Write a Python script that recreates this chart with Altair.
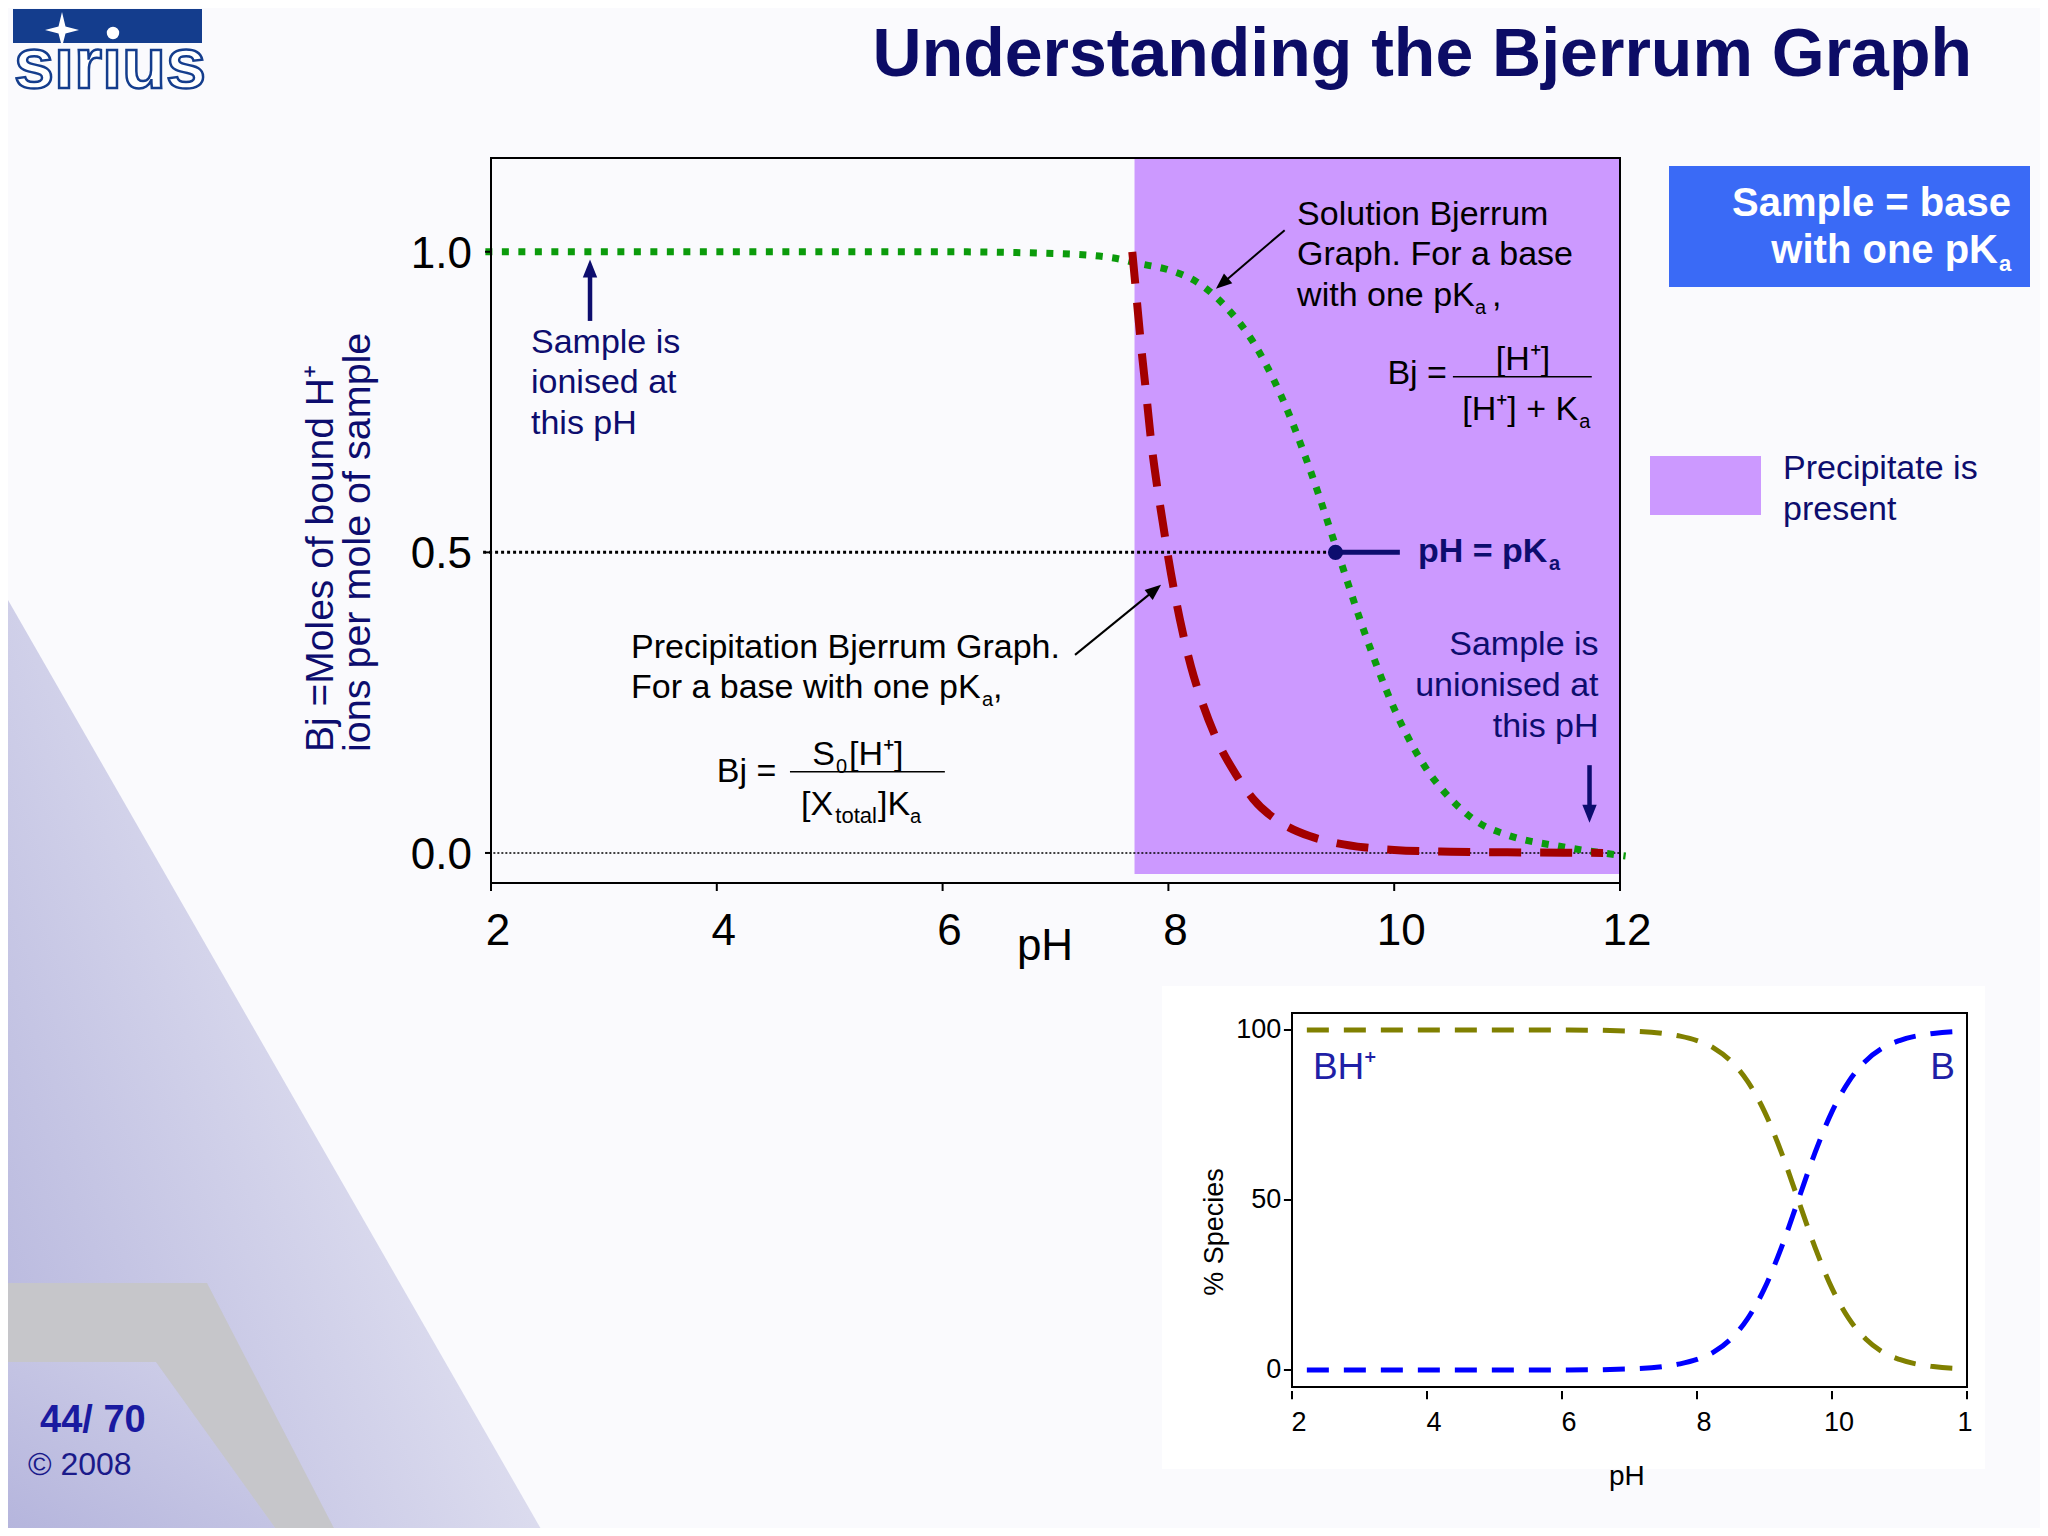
import altair as alt
import pandas as pd

FONT = "Liberation Sans, Arial, Helvetica, sans-serif"
NAVY = "#0D0D6E"
TITLE_NAVY = "#0C0C66"
GREEN = "#0B9B0B"
RED = "#A30000"
PURPLE = "#CC99FF"
LOGO_BLUE = "#143D8D"
BOX_BLUE = "#3A6AF6"

# ---------------- values ----------------
# Solution Bjerrum curve (green dotted)
sol_ph = [1.95, 3.0, 4.0, 5.0, 6.0, 7.0, 7.5, 7.75, 8.0, 8.25, 8.5, 8.75, 9.0,
          9.25, 9.5, 9.75, 10.0, 10.25, 10.5, 10.75, 11.0, 11.5, 12.05]
sol_bj = [1.0, 1.0, 1.0, 1.0, 1.0, 0.997, 0.99, 0.98, 0.97, 0.95, 0.91, 0.85, 0.76,
          0.64, 0.50, 0.36, 0.24, 0.15, 0.09, 0.05, 0.03, 0.01, -0.005]
# Precipitation Bjerrum curve (red dashed)
prec_ph = [7.68, 7.72, 7.76, 7.80, 7.85, 7.90, 7.95, 8.00, 8.10, 8.20, 8.30, 8.45,
           8.60, 8.75, 9.00, 9.25, 9.50, 9.75, 10.0, 10.5, 11.0, 11.5, 11.85]
prec_bj = [1.00, 0.92, 0.84, 0.77, 0.68, 0.61, 0.55, 0.49, 0.39, 0.31, 0.25, 0.18,
           0.13, 0.09, 0.05, 0.028, 0.016, 0.009, 0.005, 0.002, 0.001, 0.0005, 0.0]
pka_ph = 9.48
pka_bj = 0.5
precip_from_ph = 7.70
main_xticks = [2, 4, 6, 8, 10, 12]
main_xlabels = ["2", "4", "6", "8", "10", "12"]
main_yticks = [0.0, 0.5, 1.0]
main_ylabels = ["0.0", "0.5", "1.0"]

# Species distribution inset
sp_ph = [2.22, 3.0, 4.0, 5.0, 6.0, 7.0, 7.5, 7.75, 8.0, 8.25, 8.5, 8.75, 9.0,
         9.25, 9.5, 9.75, 10.0, 10.25, 10.5, 10.75, 11.0, 11.5, 12.0]
sp_bh = [100, 100, 100, 100, 100, 99.7, 99.0, 98.2, 96.9, 94.7, 90.9, 84.9, 76.0,
         64.0, 50.0, 36.0, 24.0, 15.1, 9.1, 5.3, 3.1, 1.0, 0.3]
sp_b = [0, 0, 0, 0, 0, 0.3, 1.0, 1.8, 3.1, 5.3, 9.1, 15.1, 24.0,
        36.0, 50.0, 64.0, 76.0, 84.9, 90.9, 94.7, 96.9, 99.0, 99.7]
ins_xticks = [2, 4, 6, 8, 10, 12]
ins_xlabels = ["2", "4", "6", "8", "10", "1"]
ins_yticks = [0, 50, 100]
ins_ylabels = ["0", "50", "100"]

# ---------------- scales ----------------
X_MAIN = alt.Scale(domain=[2, 12], nice=False, zero=False)
Y_MAIN = alt.Scale(domain=[-0.05, 1.156], nice=False, zero=False)
X_INS = alt.Scale(domain=[2, 12], range=[801, 1476], nice=False, zero=False)
Y_INS = alt.Scale(domain=[-5, 105], range=[1229, 855], nice=False, zero=False)

ONE = pd.DataFrame({"o": [0]})


def MX(v):
    return alt.XDatum(v, type="quantitative", scale=X_MAIN, axis=None)


def MY(v):
    return alt.YDatum(v, type="quantitative", scale=Y_MAIN, axis=None)


def IX(v):
    return alt.XDatum(v, type="quantitative", scale=X_INS, axis=None)


def IY(v):
    return alt.YDatum(v, type="quantitative", scale=Y_INS, axis=None)


def base():
    return alt.Chart(ONE)


def text_at(x, y, text, size=34, color="black", align="left",
            baseline="alphabetic", weight="normal", **kw):
    return base().mark_text(text=text, font=FONT, fontSize=size, color=color,
                            align=align, baseline=baseline, fontWeight=weight,
                            **kw).encode(x=x, y=y)


HEAD = "M0,-1 L0.8,1 L-0.8,1 Z"


def arrow(x0, y0, x1, y1, angle, color, width, head_size):
    shaft = base().mark_rule(color=color, strokeWidth=width).encode(
        x=MX(x0), y=MY(y0), x2=alt.X2Datum(x1), y2=alt.Y2Datum(y1))
    head = base().mark_point(shape=HEAD, filled=True, size=head_size, angle=angle,
                             color=color, opacity=1, strokeWidth=0).encode(
        x=MX(x1), y=MY(y1))
    return [shaft, head]


def poly(path, fill):
    # polygon drawn as a custom symbol at page origin (scale factor 1)
    return base().mark_point(shape=path, filled=True, size=4, fill=fill, opacity=1,
                             strokeWidth=0).encode(x=alt.value(-491), y=alt.value(-158))


def grad(c0, c1, x1=0, y1=1, x2=1, y2=0):
    return alt.LinearGradient(gradient="linear",
                              stops=[alt.GradientStop(color=c0, offset=0),
                                     alt.GradientStop(color=c1, offset=1)],
                              x1=x1, y1=y1, x2=x2, y2=y2)


# ---------------- background decoration ----------------
back = [
    poly("M0,586 L545,1536 L0,1536 Z", grad("#B8B8DE", "#F3F3F9", 0, 0.85, 1, 0.15)),
    poly("M0,1362 L156,1362 L281,1536 L0,1536 Z", grad("#B4B4DC", "#D2D2EA")),
    poly("M0,1283 L207,1283 L338,1536 L281,1536 L156,1362 L0,1362 Z", "#C6C6CA"),
    base().mark_rect(color="white").encode(x=alt.value(671), x2=alt.value(1494),
                                           y=alt.value(828), y2=alt.value(1311)),
]

# ---------------- main Bjerrum chart ----------------
sol_df = pd.DataFrame({"ph": sol_ph, "bj": sol_bj})
prec_df = pd.DataFrame({"ph": prec_ph, "bj": prec_bj})
mxt_df = pd.DataFrame({"v": main_xticks, "lab": main_xlabels})
myt_df = pd.DataFrame({"v": main_yticks, "lab": main_ylabels})

purple = base().mark_rect(color=PURPLE, opacity=1).encode(
    x=MX(precip_from_ph), x2=alt.X2Datum(12), y=MY(-0.035), y2=alt.Y2Datum(1.156))
zero_line = base().mark_rule(color="black", strokeWidth=1.5, strokeDash=[2, 2]).encode(
    x=MX(1.95), x2=alt.X2Datum(12), y=MY(0))
half_line = base().mark_rule(color="black", strokeWidth=3, strokeDash=[3, 3]).encode(
    x=MX(1.93), x2=alt.X2Datum(pka_ph), y=MY(pka_bj))
green = alt.Chart(sol_df).mark_line(color=GREEN, strokeWidth=7, strokeDash=[7, 9.5],
                                    strokeCap="butt", interpolate="monotone").encode(
    x=alt.X("ph:Q", scale=X_MAIN, axis=None),
    y=alt.Y("bj:Q", scale=Y_MAIN, axis=None))
red = alt.Chart(prec_df).mark_line(color=RED, strokeWidth=8, strokeDash=[32, 19],
                                   strokeCap="butt", interpolate="monotone").encode(
    x=alt.X("ph:Q", scale=X_MAIN, axis=None),
    y=alt.Y("bj:Q", scale=Y_MAIN, axis=None))
pka_line = base().mark_rule(color=NAVY, strokeWidth=5).encode(
    x=MX(pka_ph), x2=alt.X2Datum(10.05), y=MY(pka_bj))
pka_dot = base().mark_point(filled=True, size=230, color=NAVY, opacity=1).encode(
    x=MX(pka_ph), y=MY(pka_bj))
main_frame = base().mark_rect(fillOpacity=0, stroke="black", strokeWidth=2).encode(
    x=MX(2), x2=alt.X2Datum(12), y=MY(-0.05), y2=alt.Y2Datum(1.156))

# axes drawn through the main scales
main_axes = [
    alt.Chart(mxt_df).mark_rule(color="black", strokeWidth=2).encode(
        x=alt.X("v:Q", scale=X_MAIN, axis=None), y=MY(-0.05), y2=alt.Y2Datum(-0.0633)),
    alt.Chart(mxt_df).mark_text(font=FONT, fontSize=44, color="black", align="center",
                                baseline="alphabetic", dx=7).encode(
        x=alt.X("v:Q", scale=X_MAIN, axis=None), y=MY(-0.153), text="lab:N"),
    alt.Chart(myt_df).mark_rule(color="black", strokeWidth=2).encode(
        x=MX(1.947), x2=alt.X2Datum(2.0), y=alt.Y("v:Q", scale=Y_MAIN, axis=None)),
    alt.Chart(myt_df).mark_text(font=FONT, fontSize=44, color="black", align="right",
                                baseline="middle", dy=3).encode(
        x=MX(1.832), y=alt.Y("v:Q", scale=Y_MAIN, axis=None), text="lab:N"),
]

SUB = 20
main = [purple, zero_line, half_line, green, red, pka_line, pka_dot]
main += arrow(2.877, 0.885, 2.877, 0.972, 0, NAVY, 4.5, 324)
main += arrow(11.73, 0.146, 11.73, 0.065, 180, NAVY, 4.5, 324)
main += arrow(9.03, 1.036, 8.475, 0.947, 229.6, "black", 2, 256)
main += arrow(7.173, 0.3295, 7.88, 0.4376, 50.8, "black", 2, 256)
main += [
    text_at(MX(2.354), MY(0.832), ["Sample is", "ionised at", "this pH"],
            color=NAVY, lineHeight=40.5),
    # solution Bjerrum note
    text_at(MX(9.14), MY(1.045), ["Solution Bjerrum", "Graph. For a base"],
            lineHeight=40.5),
    text_at(MX(9.14), MY(0.910), "with one pK"),
    text_at(MX(10.716), MY(0.896), "a", size=SUB),
    text_at(MX(10.866), MY(0.910), ","),
    text_at(MX(11.81), MY(0.329), ["Sample is", "unionised at", "this pH"],
            color=NAVY, align="right", lineHeight=40.8),
    # precipitation Bjerrum note
    text_at(MX(3.24), MY(0.324), "Precipitation Bjerrum Graph."),
    text_at(MX(3.24), MY(0.2579), "For a base with one pK"),
    text_at(MX(6.349), MY(0.2446), "a", size=SUB),
    text_at(MX(6.446), MY(0.2579), ","),
    # pH = pKa
    text_at(MX(10.21), MY(0.484), "pH = pK", color=NAVY, weight="bold"),
    text_at(MX(11.371), MY(0.4709), "a", size=SUB, color=NAVY, weight="bold"),
    # solution formula
    text_at(MX(9.94), MY(0.780), "Bj ="),
    base().mark_rule(color="black", strokeWidth=1.5).encode(
        x=MX(10.52), x2=alt.X2Datum(11.75), y=MY(0.792)),
    text_at(MX(11.14), MY(0.804), "[H⁺]", align="center"),
    text_at(MX(11.63), MY(0.720), "[H⁺] + K", align="right"),
    text_at(MX(11.64), MY(0.7072), "a", size=SUB),
    # precipitation formula
    text_at(MX(4.00), MY(0.118), "Bj ="),
    base().mark_rule(color="black", strokeWidth=1.5).encode(
        x=MX(4.648), x2=alt.X2Datum(6.02), y=MY(0.135)),
    text_at(MX(5.046), MY(0.1464), "S", align="right"),
    text_at(MX(5.056), MY(0.1331), "0", size=SUB),
    text_at(MX(5.172), MY(0.1464), "[H⁺]"),
    text_at(MX(5.03), MY(0.063), "[X", align="right"),
    text_at(MX(5.05), MY(0.050), "total", size=22),
    text_at(MX(5.428), MY(0.0632), "]K"),
    text_at(MX(5.711), MY(0.0499), "a", size=SUB),
    main_frame,
]
main += main_axes

# ---------------- inset: % species ----------------
ins_df = pd.DataFrame({"ph": sp_ph, "bh": sp_bh, "b": sp_b})
xt_df = pd.DataFrame({"v": ins_xticks, "lab": ins_xlabels})
yt_df = pd.DataFrame({"v": ins_yticks, "lab": ins_ylabels})

inset = [
    base().mark_rect(fillOpacity=0, stroke="black", strokeWidth=2).encode(
        x=IX(2), x2=alt.X2Datum(12), y=IY(-5), y2=alt.Y2Datum(105)),
    alt.Chart(ins_df).mark_line(color="#808000", strokeWidth=5, strokeDash=[22, 15],
                                strokeCap="butt", interpolate="monotone").encode(
        x=alt.X("ph:Q", scale=X_INS, axis=None), y=alt.Y("bh:Q", scale=Y_INS, axis=None)),
    alt.Chart(ins_df).mark_line(color="#0000FF", strokeWidth=5, strokeDash=[22, 15],
                                strokeCap="butt", interpolate="monotone").encode(
        x=alt.X("ph:Q", scale=X_INS, axis=None), y=alt.Y("b:Q", scale=Y_INS, axis=None)),
    alt.Chart(xt_df).mark_rule(color="black", strokeWidth=2).encode(
        x=alt.X("v:Q", scale=X_INS, axis=None), y=IY(-6.2), y2=alt.Y2Datum(-8.6)),
    alt.Chart(xt_df[xt_df["v"] < 12]).mark_text(font=FONT, fontSize=27, color="black",
                                                align="center", baseline="middle", dx=7).encode(
        x=alt.X("v:Q", scale=X_INS, axis=None), y=IY(-15.6), text="lab:N"),
    alt.Chart(xt_df[xt_df["v"] == 12]).mark_text(font=FONT, fontSize=27, color="black",
                                                 align="center", baseline="middle", dx=-2).encode(
        x=alt.X("v:Q", scale=X_INS, axis=None), y=IY(-15.6), text="lab:N"),
    alt.Chart(yt_df).mark_rule(color="black", strokeWidth=2).encode(
        x=IX(1.88), x2=alt.X2Datum(2.0), y=alt.Y("v:Q", scale=Y_INS, axis=None)),
    alt.Chart(yt_df).mark_text(font=FONT, fontSize=27, color="black",
                               align="right", baseline="middle").encode(
        x=IX(1.84), y=alt.Y("v:Q", scale=Y_INS, axis=None), text="lab:N"),
    text_at(IX(0.86), IY(40.6), "% Species", size=27, align="center",
            baseline="middle", angle=270),
    text_at(IX(6.96), IY(-31.5), "pH", size=28, align="center", baseline="middle"),
    text_at(IX(2.31), IY(85.6), "BH⁺", size=37, color="#1F1FA6"),
    text_at(IX(11.82), IY(85.6), "B", size=37, color="#1F1FA6", align="right"),
]

# ---------------- slide furniture (page positions) ----------------
V = alt.value
STAR = "M0,-18 L3.5,-3.5 L17,0 L3.5,3.5 L0,17 L-3.5,3.5 L-17,0 L-3.5,-3.5 Z"
front = [
    text_at(V(1481), V(-82), "Understanding the Bjerrum Graph", size=68,
            color=TITLE_NAVY, align="right", weight="bold"),
    base().mark_rect(color=LOGO_BLUE).encode(x=V(-478), x2=V(-289), y=V(-149), y2=V(-115)),
    text_at(V(-477), V(-70), "sırıus", size=72, weight="bold", fill="white",
            stroke=LOGO_BLUE, strokeWidth=2.5),
    base().mark_point(shape=STAR, filled=True, size=4, color="white", opacity=1,
                      strokeWidth=0).encode(x=V(-429), y=V(-128)),
    base().mark_point(filled=True, size=154, color="white", opacity=1,
                      strokeWidth=0).encode(x=V(-378), y=V(-125)),
    base().mark_rect(color=BOX_BLUE).encode(x=V(1178), x2=V(1539), y=V(8), y2=V(129)),
    text_at(V(1520), V(58), "Sample = base", size=40, color="white",
            align="right", weight="bold"),
    text_at(V(1507), V(105), "with one pK", size=40, color="white",
            align="right", weight="bold"),
    text_at(V(1508), V(113), "a", size=22, color="white", weight="bold"),
    base().mark_rect(color=PURPLE).encode(x=V(1159), x2=V(1270), y=V(298), y2=V(357)),
    text_at(V(1292), V(321), ["Precipitate is", "present"], color=NAVY, lineHeight=41),
    text_at(V(-158), V(594), "Bj =Moles of bound H⁺", size=39, color=NAVY, angle=270),
    text_at(V(-121), V(594), "ions per mole of sample", size=39.5, color=NAVY, angle=270),
    text_at(V(554), V(802), "pH", size=44, align="center"),
    text_at(V(-451), V(1274), "44/ 70", size=38, color="#1A1AA0", weight="bold"),
    text_at(V(-463), V(1317), "© 2008", size=32, color="#1A1A8A"),
]

chart = alt.layer(
    alt.layer(*back),
    alt.layer(*main),
    alt.layer(*inset),
    alt.layer(*front),
).resolve_scale(x="independent", y="independent").properties(
    width=1129, height=725,
    autosize=alt.AutoSizeParams(type="none"),
    padding={"left": 483, "top": 150, "right": 420, "bottom": 645},
    background="#FAFAFD",
).configure_view(strokeWidth=0)

chart.save("out.html", embed_options={"renderer": "svg", "actions": False})
